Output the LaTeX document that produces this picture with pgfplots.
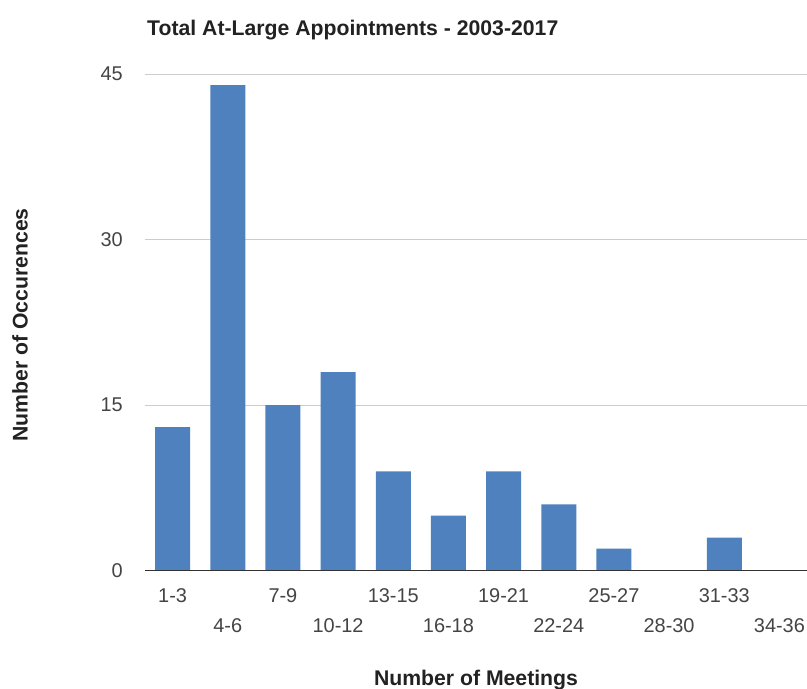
\documentclass[border=0pt]{standalone}
\usepackage{pgfplots}
\pgfplotsset{compat=1.18}
\usepackage{fontspec}
\setmainfont{Liberation Sans}
\definecolor{barblue}{HTML}{4E81BD}
\definecolor{gridgray}{HTML}{CCCCCC}
\definecolor{ticktext}{HTML}{444444}
\definecolor{titletext}{HTML}{222222}
\begin{document}
\begin{tikzpicture}
\useasboundingbox (0,0) rectangle (807bp,689bp);
\begin{axis}[
  at={(145bp,118.3bp)}, anchor=south west,
  scale only axis, width=662bp, height=496.7bp,
  xmin=-0.5, xmax=11.5, ymin=0, ymax=45,
  ybar, bar width=35bp,
  axis line style={draw=none},
  ytick={0,15,30,45},
  ymajorgrids, grid style={gridgray, line width=0.8bp},
  major tick length=0pt,
  xtick={0,2,4,6,8,10},
  xticklabels={1-3,7-9,13-15,19-21,25-27,31-33},
  extra x ticks={1,3,5,7,9,11},
  extra x tick labels={4-6,10-12,16-18,22-24,28-30,34-36},
  extra x tick style={grid=none, xticklabel style={yshift=-30bp}},
  xticklabel style={anchor=center, inner sep=0pt, yshift=-25bp, text=ticktext},
  yticklabel style={anchor=east, inner sep=0pt, xshift=-22bp, text=ticktext},
  /pgf/number format/assume math mode=true,
  tick label style={font=\fontsize{20}{24}\selectfont},
  clip=false,
]
\addplot[fill=barblue, draw=none] coordinates {
 (0,13) (1,44) (2,15) (3,18) (4,9) (5,5) (6,9) (7,6) (8,2) (9,0) (10,3) (11,0)
};
\draw[color=black!80, line width=1.2bp] (axis cs:-0.5,0) -- (axis cs:11.5,0);
\end{axis}
\node[anchor=base west, inner sep=0pt, text=titletext, font=\fontsize{21.3}{25}\selectfont\bfseries] at (147bp,653bp) {Total At-Large Appointments - 2003-2017};
\node[anchor=center, rotate=90, inner sep=0pt, text=titletext, font=\fontsize{21.3}{25}\selectfont\bfseries] at (20bp,364bp) {Number of Occurences};
\node[anchor=base, inner sep=0pt, text=titletext, font=\fontsize{21.3}{25}\selectfont\bfseries] at (476bp,4bp) {Number of Meetings};
\end{tikzpicture}
\end{document}
